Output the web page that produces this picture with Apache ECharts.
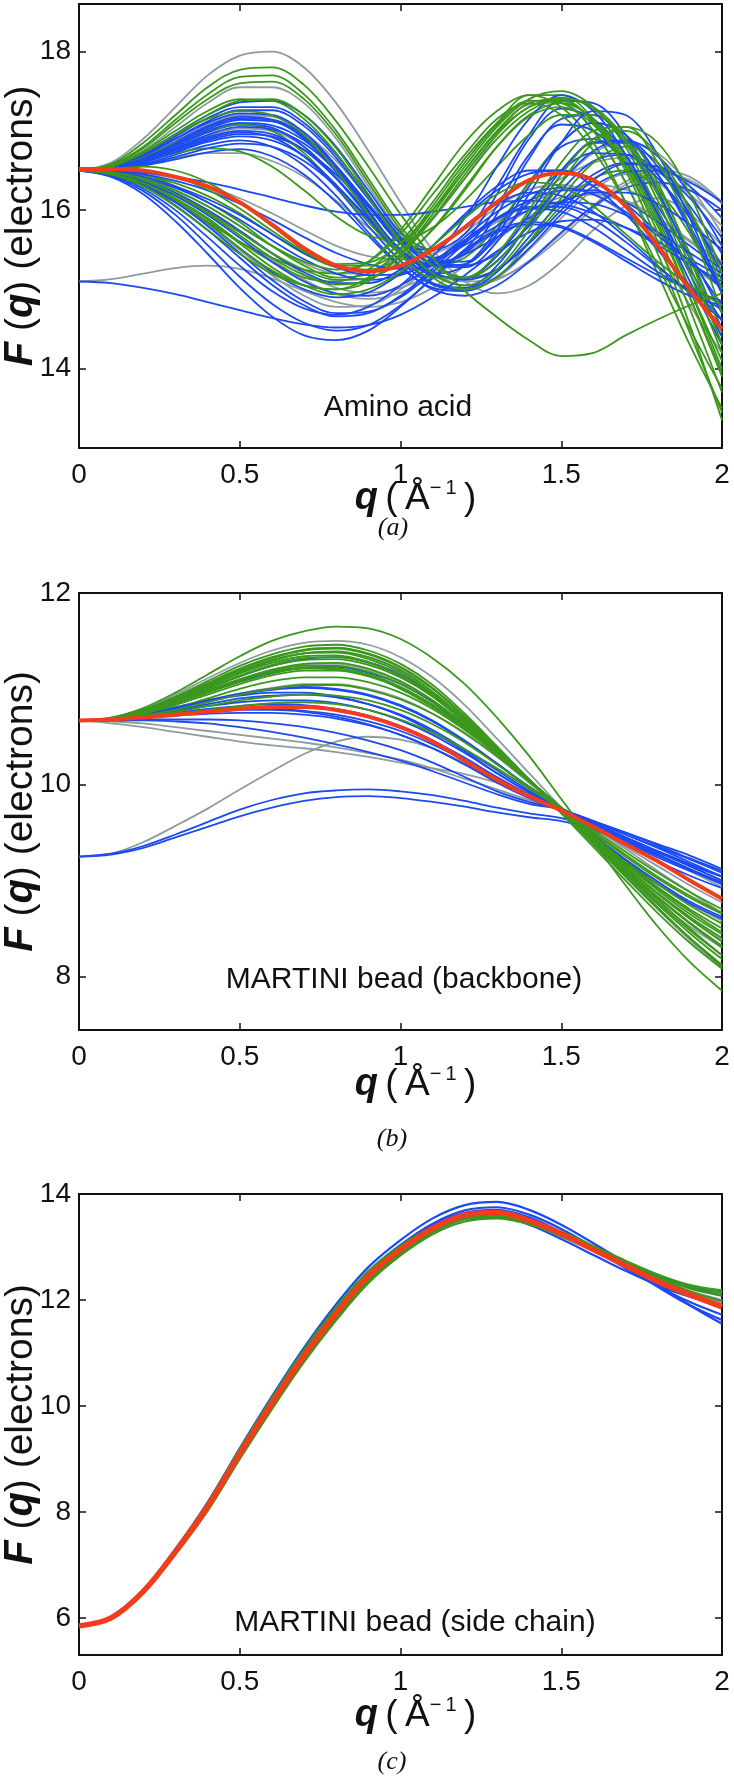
<!DOCTYPE html>
<html><head><meta charset="utf-8">
<script src="https://cdn.jsdelivr.net/npm/echarts@6/dist/echarts.min.js"></script>
<style>html,body{margin:0;padding:0;background:#fff}#chart{width:734px;height:1780px}</style>
</head><body><div id="chart"></div>
<script>
// ---------- data ----------
const qValues = [0,0.1,0.2,0.3,0.4,0.5,0.6,0.7,0.8,0.9,1.0,1.1,1.2,1.3,1.4,1.5,1.6,1.7,1.8,1.9,2.0];
const xTickValues = [0,0.5,1,1.5,2];
const aminoTicks = [14,16,18];
const backboneTicks = [8,10,12];
const sideTicks = [6,8,10,12,14];

// (a) Amino acid
const aminoRed = [16.52,16.52,16.5,16.42,16.3,16.1,15.82,15.52,15.3,15.23,15.3,15.5,15.78,16.1,16.38,16.47,16.38,16.05,15.55,15.0,14.5];
const aminoBlue = [
 [16.5,16.55,16.72,16.96,17.2,17.36,17.38,17.2,16.8,16.25,15.72,15.5,15.7,16.3,16.95,17.38,17.35,16.95,16.25,15.4,14.5],
 [16.5,16.54,16.69,16.9,17.12,17.26,17.26,17.06,16.66,16.14,15.64,15.4,15.6,16.2,16.9,17.28,17.15,16.7,16.0,15.2,14.4],
 [16.5,16.53,16.66,16.86,17.06,17.18,17.14,16.9,16.48,15.98,15.5,15.3,15.5,16.05,16.7,17.08,17.0,16.6,15.95,15.25,14.6],
 [16.5,16.53,16.63,16.8,16.98,17.08,17.04,16.8,16.4,15.92,15.46,15.2,15.3,15.75,16.35,16.8,16.9,16.6,16.05,15.4,14.8],
 [16.5,16.52,16.61,16.76,16.9,16.98,16.92,16.68,16.28,15.8,15.36,15.06,15.0,15.22,15.66,16.1,16.45,16.6,16.5,16.15,15.65],
 [16.5,16.52,16.58,16.7,16.82,16.88,16.8,16.56,16.18,15.72,15.3,15.02,14.98,15.16,15.52,15.95,16.3,16.48,16.5,16.35,16.1],
 [16.5,16.51,16.56,16.64,16.73,16.77,16.68,16.45,16.1,15.68,15.28,15.0,14.92,15.05,15.35,15.72,16.05,16.28,16.35,16.25,16.0],
 [16.5,16.53,16.64,16.83,17.02,17.14,17.12,16.92,16.55,16.08,15.62,15.35,15.45,15.95,16.65,17.15,17.2,16.85,16.2,15.45,14.7],
 [16.5,16.52,16.6,16.74,16.88,16.96,16.93,16.76,16.45,16.05,15.65,15.38,15.3,15.45,15.8,16.25,16.62,16.7,16.5,16.05,15.45],
 [16.5,16.54,16.68,16.9,17.1,17.22,17.2,16.98,16.56,16.0,15.45,15.08,15.02,15.3,15.85,16.45,16.85,16.85,16.45,15.8,15.0],
 [16.5,16.42,16.2,15.86,15.45,15.02,14.66,14.42,14.36,14.48,14.78,15.15,15.5,15.75,15.85,15.8,15.62,15.4,15.18,15.0,14.85],
 [16.5,16.44,16.27,16.0,15.66,15.3,14.98,14.76,14.68,14.78,15.05,15.42,15.8,16.08,16.22,16.18,15.98,15.66,15.3,14.95,14.62],
 [16.5,16.46,16.33,16.12,15.84,15.52,15.22,15.0,14.9,14.96,15.2,15.55,15.95,16.3,16.5,16.5,16.3,15.95,15.5,15.05,14.62],
 [16.5,16.47,16.38,16.22,16.0,15.74,15.46,15.22,15.08,15.08,15.25,15.55,15.92,16.25,16.46,16.5,16.36,16.08,15.72,15.35,15.02],
 [16.5,16.48,16.4,16.28,16.1,15.88,15.62,15.38,15.2,15.12,15.18,15.36,15.62,15.9,16.12,16.25,16.25,16.1,15.85,15.55,15.25],
 [15.1,15.08,15.02,14.94,14.84,14.74,14.64,14.56,14.52,14.55,14.68,14.9,15.18,15.48,15.72,15.86,15.88,15.78,15.6,15.38,15.15],
 [16.5,16.45,16.3,16.06,15.75,15.4,15.06,14.8,14.66,14.7,14.92,15.26,15.62,15.9,16.02,15.98,15.78,15.5,15.22,15.0,14.85],
 [16.5,16.5,16.47,16.42,16.35,16.26,16.16,16.06,15.98,15.94,15.94,15.98,16.04,16.1,16.12,16.08,15.96,15.78,15.56,15.32,15.1],
 [16.5,16.53,16.65,16.84,17.04,17.16,17.14,16.94,16.56,16.06,15.58,15.5,15.9,16.55,17.15,17.45,17.25,16.7,15.95,15.1,14.3],
 [16.5,16.52,16.62,16.78,16.95,17.05,17.02,16.84,16.5,16.05,15.62,15.35,15.35,15.65,16.1,16.5,16.72,16.7,16.4,15.9,15.3],
 [16.5,16.53,16.64,16.82,17.0,17.1,17.07,16.88,16.52,16.04,15.58,15.3,15.32,15.7,16.3,16.85,17.1,16.95,16.45,15.75,14.95],
 [16.5,16.52,16.6,16.73,16.86,16.93,16.88,16.68,16.32,15.88,15.45,15.18,15.15,15.42,15.95,16.5,16.85,16.88,16.55,15.95,15.2],
 [16.5,16.54,16.7,16.93,17.16,17.3,17.3,17.1,16.7,16.18,15.66,15.32,15.28,15.6,16.2,16.85,17.25,17.2,16.7,15.9,14.95],
 [16.5,16.51,16.57,16.67,16.78,16.84,16.8,16.62,16.3,15.9,15.5,15.22,15.12,15.25,15.58,16.0,16.38,16.58,16.55,16.3,15.9],
 [16.5,16.53,16.62,16.77,16.92,17.0,16.96,16.76,16.4,15.95,15.5,15.2,15.14,15.36,15.82,16.35,16.75,16.88,16.68,16.2,15.55],
 [16.5,16.45,16.32,16.1,15.8,15.46,15.12,14.85,14.7,14.72,14.9,15.22,15.58,15.88,16.04,16.04,15.88,15.6,15.28,14.98,14.75],
 [16.5,16.47,16.36,16.18,15.94,15.65,15.35,15.1,14.95,14.92,15.05,15.32,15.66,15.98,16.2,16.28,16.2,15.98,15.68,15.35,15.05],
 [16.5,16.48,16.42,16.3,16.14,15.94,15.7,15.46,15.28,15.18,15.2,15.34,15.56,15.8,16.0,16.1,16.08,15.94,15.72,15.46,15.2],
 [16.5,16.43,16.24,15.94,15.56,15.16,14.82,14.58,14.48,14.55,14.8,15.14,15.48,15.72,15.82,15.78,15.6,15.36,15.12,14.92,14.8],
 [16.5,16.49,16.45,16.37,16.25,16.08,15.88,15.66,15.46,15.32,15.26,15.3,15.44,15.66,15.9,16.1,16.22,16.22,16.08,15.82,15.5]
];
const aminoGreen = [
 [16.5,16.58,16.85,17.2,17.55,17.77,17.8,17.58,17.12,16.55,15.95,15.4,14.98,14.65,14.36,14.16,14.2,14.42,14.62,14.8,14.95],
 [16.5,16.57,16.8,17.14,17.46,17.68,17.7,17.46,17.0,16.4,15.8,15.35,15.15,15.25,15.6,16.05,16.4,16.5,16.25,15.7,14.95],
 [16.5,16.45,16.3,16.05,15.75,15.45,15.2,15.05,15.0,15.1,15.45,15.95,16.5,17.0,17.35,17.4,17.1,16.5,15.6,14.55,13.35],
 [16.5,16.47,16.35,16.15,15.9,15.6,15.35,15.15,15.1,15.25,15.6,16.1,16.65,17.1,17.45,17.45,17.15,16.6,15.85,14.9,13.9],
 [16.5,16.48,16.4,16.25,16.05,15.8,15.55,15.35,15.25,15.35,15.7,16.2,16.7,17.15,17.35,17.2,16.75,16.1,15.3,14.5,13.75],
 [16.5,16.5,16.45,16.3,16.1,15.85,15.55,15.3,15.15,15.2,15.5,16.0,16.55,17.05,17.4,17.5,17.3,16.8,16.0,15.0,14.0],
 [16.5,16.52,16.55,16.5,16.35,16.1,15.8,15.5,15.3,15.3,15.5,15.9,16.4,16.9,17.25,17.4,17.3,16.9,16.2,15.3,14.3],
 [16.5,16.45,16.3,16.1,15.85,15.6,15.4,15.25,15.2,15.35,15.75,16.3,16.85,17.25,17.45,17.3,16.85,16.1,15.2,14.3,13.5],
 [16.5,16.55,16.72,16.95,17.15,17.25,17.2,16.95,16.5,15.95,15.45,15.15,15.15,15.45,16.0,16.6,17.0,17.05,16.6,15.8,14.7],
 [16.5,16.53,16.66,16.85,17.0,17.08,17.0,16.72,16.3,15.85,15.45,15.3,15.4,15.8,16.35,16.85,17.1,16.95,16.35,15.4,14.3],
 [16.5,16.46,16.34,16.14,15.88,15.58,15.28,15.05,14.94,15.0,15.22,15.55,15.9,16.2,16.35,16.3,16.05,15.7,15.35,15.05,14.8],
 [16.5,16.49,16.44,16.34,16.18,15.96,15.7,15.45,15.28,15.25,15.4,15.75,16.25,16.8,17.2,17.35,17.15,16.65,15.9,15.0,14.1],
 [16.5,16.56,16.78,17.1,17.4,17.6,17.62,17.4,16.95,16.35,15.75,15.3,15.15,15.35,15.85,16.45,16.9,17.0,16.7,16.0,15.0],
 [16.5,16.54,16.7,16.95,17.2,17.38,17.4,17.2,16.78,16.2,15.6,15.15,15.0,15.15,15.6,16.15,16.6,16.8,16.6,16.0,15.1],
 [16.5,16.48,16.38,16.2,15.96,15.68,15.4,15.18,15.06,15.12,15.42,15.9,16.45,16.95,17.3,17.38,17.12,16.55,15.72,14.75,13.7],
 [16.5,16.46,16.34,16.12,15.84,15.52,15.24,15.05,15.0,15.15,15.52,16.05,16.6,17.08,17.38,17.35,17.0,16.35,15.45,14.45,13.45],
 [16.5,16.51,16.5,16.42,16.26,16.02,15.74,15.48,15.32,15.34,15.58,16.0,16.5,16.98,17.3,17.42,17.28,16.85,16.12,15.2,14.2],
 [16.5,16.53,16.62,16.72,16.78,16.74,16.55,16.25,15.92,15.68,15.62,15.78,16.12,16.55,16.95,17.2,17.2,16.9,16.3,15.45,14.45],
 [16.5,16.55,16.74,17.0,17.25,17.4,17.38,17.15,16.72,16.16,15.6,15.2,15.05,15.25,15.75,16.35,16.85,17.05,16.85,16.2,15.2],
 [16.5,16.47,16.37,16.2,15.98,15.72,15.46,15.25,15.12,15.14,15.36,15.76,16.28,16.8,17.18,17.3,17.08,16.55,15.8,14.9,13.95]
];
const aminoGray = [
 [16.5,16.6,16.9,17.3,17.7,17.95,18.0,17.8,17.35,16.75,16.1,15.5,15.1,14.95,15.05,15.35,15.75,16.05,16.15,15.95,15.55],
 [16.5,16.56,16.75,17.05,17.35,17.55,17.55,17.35,16.9,16.3,15.7,15.25,15.05,15.15,15.5,15.9,16.25,16.45,16.35,15.95,15.3],
 [15.1,15.13,15.2,15.27,15.3,15.26,15.14,14.98,14.84,14.78,14.84,15.02,15.3,15.62,15.92,16.12,16.2,16.12,15.9,15.6,15.3],
 [16.5,16.47,16.38,16.22,16.0,15.74,15.45,15.2,15.02,14.96,15.02,15.2,15.48,15.8,16.12,16.4,16.6,16.66,16.52,16.2,15.8],
 [16.5,16.53,16.62,16.78,16.94,17.03,17.0,16.8,16.42,15.95,15.5,15.18,15.05,15.12,15.36,15.7,16.06,16.36,16.5,16.42,16.1],
 [16.5,16.48,16.4,16.25,16.05,15.8,15.55,15.33,15.2,15.22,15.45,15.88,16.4,16.95,17.33,17.35,17.0,16.35,15.55,14.8,14.2],
 [16.5,16.5,16.47,16.4,16.3,16.15,15.96,15.75,15.55,15.42,15.38,15.45,15.62,15.85,16.08,16.25,16.32,16.26,16.08,15.82,15.5],
 [16.5,16.45,16.32,16.1,15.82,15.5,15.18,14.92,14.78,14.8,15.0,15.32,15.7,16.04,16.26,16.32,16.2,15.95,15.62,15.3,15.02],
 [16.5,16.52,16.58,16.66,16.72,16.72,16.62,16.42,16.12,15.78,15.46,15.22,15.1,15.14,15.34,15.66,16.02,16.32,16.46,16.38,16.08],
 [16.5,16.47,16.37,16.2,15.96,15.68,15.38,15.12,14.94,14.88,14.96,15.16,15.44,15.74,16.0,16.16,16.2,16.1,15.9,15.62,15.35],
 [16.5,16.54,16.68,16.88,17.08,17.2,17.18,16.98,16.62,16.15,15.7,15.38,15.3,15.48,15.88,16.35,16.72,16.86,16.72,16.3,15.7]
];

// (b) MARTINI bead (backbone)
const backboneRed = [10.67,10.68,10.7,10.73,10.76,10.79,10.81,10.81,10.78,10.71,10.6,10.45,10.25,10.05,9.88,9.73,9.56,9.38,9.2,9.0,8.81];
const backboneBlue = [
 [10.67,10.69,10.76,10.87,11.0,11.13,11.24,11.31,11.33,11.28,11.15,10.95,10.68,10.37,10.05,9.75,9.46,9.2,8.96,8.76,8.6],
 [10.67,10.69,10.74,10.81,10.88,10.93,10.96,10.96,10.92,10.84,10.72,10.55,10.35,10.12,9.92,9.74,9.58,9.43,9.29,9.16,9.04],
 [10.67,10.68,10.72,10.77,10.82,10.86,10.88,10.88,10.85,10.78,10.67,10.52,10.33,10.12,9.92,9.75,9.6,9.45,9.31,9.17,9.04],
 [10.67,10.68,10.7,10.72,10.74,10.75,10.75,10.73,10.69,10.62,10.52,10.38,10.21,10.02,9.86,9.74,9.62,9.5,9.37,9.23,9.1],
 [10.67,10.67,10.67,10.66,10.64,10.6,10.55,10.49,10.42,10.34,10.25,10.14,10.02,9.9,9.8,9.74,9.62,9.48,9.34,9.19,9.04],
 [10.67,10.67,10.68,10.68,10.68,10.67,10.64,10.6,10.54,10.46,10.36,10.23,10.08,9.93,9.82,9.74,9.6,9.45,9.3,9.15,9.0],
 [10.67,10.68,10.71,10.75,10.79,10.82,10.84,10.83,10.79,10.72,10.61,10.46,10.28,10.08,9.9,9.75,9.6,9.45,9.3,9.15,9.0],
 [9.25,9.28,9.36,9.48,9.61,9.74,9.84,9.91,9.94,9.95,9.93,9.89,9.83,9.76,9.7,9.65,9.55,9.42,9.27,9.12,8.97],
 [9.25,9.27,9.34,9.45,9.56,9.67,9.76,9.83,9.87,9.88,9.86,9.82,9.77,9.71,9.66,9.62,9.53,9.4,9.26,9.11,8.96],
 [10.67,10.69,10.75,10.85,10.97,11.08,11.17,11.22,11.23,11.17,11.05,10.86,10.6,10.33,10.04,9.75,9.47,9.22,8.99,8.78,8.62],
 [10.67,10.68,10.72,10.78,10.84,10.9,10.93,10.94,10.91,10.84,10.73,10.57,10.37,10.15,9.94,9.75,9.58,9.42,9.27,9.12,8.98],
 [10.67,10.68,10.71,10.74,10.77,10.79,10.79,10.77,10.73,10.66,10.56,10.42,10.25,10.06,9.88,9.74,9.61,9.48,9.35,9.22,9.08],
 [10.67,10.68,10.73,10.8,10.88,10.95,11.0,11.02,11.0,10.94,10.83,10.67,10.46,10.22,9.97,9.75,9.55,9.37,9.2,9.05,8.92],
 [10.67,10.68,10.7,10.73,10.76,10.78,10.78,10.76,10.71,10.63,10.52,10.38,10.21,10.03,9.87,9.74,9.62,9.5,9.38,9.26,9.12],
 [10.67,10.68,10.72,10.79,10.87,10.94,10.99,11.01,10.99,10.93,10.82,10.66,10.45,10.22,9.98,9.76,9.57,9.4,9.24,9.1,8.98]
];
const backboneGreen = [
 [10.67,10.7,10.8,10.96,11.15,11.34,11.5,11.6,11.65,11.63,11.52,11.32,11.05,10.7,10.3,9.85,9.4,8.95,8.52,8.15,7.85],
 [10.67,10.69,10.77,10.9,11.05,11.2,11.32,11.4,11.42,11.36,11.22,11.0,10.7,10.38,10.05,9.72,9.38,9.05,8.72,8.4,8.1],
 [10.67,10.69,10.76,10.88,11.02,11.16,11.27,11.34,11.35,11.28,11.14,10.93,10.66,10.36,10.05,9.74,9.42,9.1,8.8,8.5,8.22],
 [10.67,10.69,10.75,10.85,10.98,11.1,11.2,11.26,11.27,11.21,11.08,10.88,10.63,10.35,10.05,9.75,9.44,9.14,8.86,8.6,8.36],
 [10.67,10.68,10.74,10.83,10.94,11.05,11.14,11.19,11.19,11.13,11.01,10.83,10.6,10.34,10.05,9.76,9.46,9.18,8.92,8.68,8.46],
 [10.67,10.68,10.73,10.8,10.9,11.0,11.08,11.12,11.12,11.07,10.96,10.79,10.57,10.32,10.04,9.76,9.48,9.21,8.96,8.74,8.55],
 [10.67,10.68,10.72,10.78,10.86,10.94,11.0,11.04,11.04,10.99,10.89,10.74,10.54,10.3,10.03,9.76,9.5,9.25,9.02,8.82,8.65],
 [10.67,10.69,10.76,10.87,11.0,11.13,11.24,11.3,11.31,11.25,11.12,10.92,10.65,10.36,10.05,9.74,9.42,9.11,8.82,8.55,8.3],
 [10.67,10.69,10.78,10.92,11.08,11.24,11.36,11.44,11.46,11.4,11.26,11.04,10.74,10.4,10.05,9.7,9.35,9.0,8.66,8.35,8.08],
 [10.67,10.68,10.75,10.86,10.98,11.1,11.18,11.22,11.2,11.14,11.0,10.81,10.58,10.32,10.04,9.76,9.47,9.19,8.93,8.7,8.5],
 [10.67,10.68,10.7,10.74,10.78,10.82,10.85,10.86,10.84,10.78,10.68,10.54,10.37,10.17,9.96,9.75,9.53,9.3,9.08,8.88,8.7],
 [10.67,10.69,10.77,10.89,11.03,11.17,11.29,11.37,11.39,11.33,11.19,10.97,10.68,10.37,10.05,9.73,9.4,9.07,8.75,8.45,8.18],
 [10.67,10.68,10.75,10.85,10.97,11.09,11.19,11.24,11.24,11.18,11.05,10.86,10.62,10.35,10.05,9.75,9.45,9.15,8.87,8.62,8.4],
 [10.67,10.69,10.76,10.88,11.01,11.14,11.25,11.32,11.33,11.27,11.13,10.92,10.65,10.36,10.05,9.74,9.43,9.12,8.83,8.56,8.32],
 [10.67,10.69,10.78,10.91,11.06,11.21,11.33,11.41,11.43,11.37,11.23,11.01,10.71,10.39,10.05,9.72,9.38,9.04,8.71,8.4,8.12],
 [10.67,10.68,10.74,10.84,10.96,11.07,11.16,11.21,11.21,11.15,11.02,10.83,10.59,10.33,10.04,9.76,9.46,9.17,8.9,8.65,8.44],
 [10.67,10.69,10.77,10.9,11.04,11.18,11.3,11.37,11.38,11.31,11.17,10.95,10.67,10.37,10.05,9.73,9.41,9.09,8.77,8.48,8.22],
 [10.67,10.68,10.71,10.76,10.82,10.88,10.92,10.94,10.93,10.88,10.78,10.63,10.44,10.21,9.98,9.75,9.51,9.27,9.04,8.84,8.66]
];
const backboneGray = [
 [10.67,10.7,10.79,10.94,11.11,11.27,11.4,11.48,11.5,11.46,11.33,11.12,10.83,10.48,10.12,9.76,9.4,9.04,8.7,8.38,8.1],
 [10.67,10.69,10.77,10.9,11.05,11.19,11.3,11.37,11.38,11.33,11.2,11.0,10.72,10.4,10.06,9.73,9.4,9.08,8.78,8.52,8.3],
 [10.67,10.64,10.6,10.55,10.5,10.45,10.41,10.38,10.34,10.29,10.23,10.17,10.11,10.02,9.9,9.74,9.55,9.35,9.15,8.95,8.77],
 [9.25,9.28,9.4,9.57,9.75,9.95,10.14,10.32,10.45,10.5,10.47,10.38,10.22,10.03,9.87,9.74,9.55,9.33,9.1,8.88,8.66],
 [10.67,10.69,10.75,10.85,10.97,11.09,11.19,11.25,11.26,11.2,11.07,10.87,10.61,10.33,10.04,9.74,9.44,9.14,8.86,8.6,8.38],
 [10.67,10.68,10.72,10.79,10.87,10.95,11.01,11.05,11.05,11.0,10.9,10.74,10.53,10.29,10.02,9.75,9.48,9.22,8.98,8.76,8.58],
 [10.67,10.66,10.64,10.6,10.56,10.52,10.48,10.44,10.39,10.33,10.26,10.17,10.06,9.95,9.84,9.74,9.6,9.44,9.27,9.1,8.93]
];

// (c) MARTINI bead (side chain)
const sideRed = [5.85,6.0,6.5,7.25,8.1,9.1,10.05,10.95,11.75,12.45,12.95,13.35,13.6,13.65,13.5,13.25,12.95,12.65,12.35,12.1,11.87];
const sideBlue = [
 [5.85,6.0,6.52,7.3,8.18,9.2,10.18,11.1,11.92,12.62,13.13,13.54,13.79,13.85,13.7,13.42,13.07,12.7,12.3,11.9,11.55],
 [5.85,6.0,6.5,7.27,8.14,9.15,10.12,11.03,11.84,12.54,13.04,13.44,13.69,13.75,13.61,13.34,13.0,12.63,12.25,11.9,11.62],
 [5.85,6.0,6.49,7.22,8.05,9.03,9.97,10.87,11.66,12.36,12.88,13.28,13.53,13.58,13.42,13.15,12.85,12.55,12.28,12.06,11.9],
 [5.85,6.0,6.5,7.25,8.1,9.1,10.06,10.96,11.76,12.46,12.97,13.38,13.64,13.7,13.56,13.28,12.95,12.6,12.26,11.96,11.72],
 [5.85,6.0,6.5,7.26,8.12,9.13,10.09,11.0,11.8,12.5,13.0,13.4,13.64,13.67,13.51,13.25,12.97,12.7,12.45,12.24,12.08]
];
const sideGreen = [
 [5.85,5.99,6.47,7.2,8.02,9.0,9.94,10.83,11.62,12.32,12.84,13.24,13.48,13.54,13.43,13.2,12.93,12.66,12.42,12.22,12.08],
 [5.85,6.0,6.51,7.29,8.17,9.18,10.15,11.06,11.86,12.54,13.02,13.39,13.6,13.63,13.5,13.27,12.99,12.71,12.46,12.26,12.13],
 [5.85,6.0,6.5,7.25,8.1,9.1,10.05,10.95,11.75,12.44,12.94,13.33,13.58,13.63,13.51,13.29,13.02,12.74,12.48,12.28,12.18],
 [5.85,5.99,6.48,7.21,8.04,9.02,9.96,10.86,11.66,12.37,12.89,13.29,13.54,13.6,13.48,13.25,12.98,12.68,12.4,12.16,11.98],
 [5.85,6.0,6.51,7.28,8.15,9.16,10.13,11.04,11.84,12.53,13.01,13.38,13.6,13.63,13.49,13.23,12.93,12.62,12.33,12.08,11.88],
 [5.85,6.0,6.49,7.23,8.07,9.06,10.0,10.9,11.69,12.39,12.9,13.29,13.53,13.57,13.45,13.22,12.96,12.7,12.46,12.26,12.14]
];
const sideGray = [
 [5.85,6.0,6.5,7.25,8.1,9.1,10.05,10.95,11.74,12.43,12.92,13.31,13.55,13.6,13.46,13.22,12.95,12.67,12.4,12.17,12.0],
 [5.85,6.0,6.5,7.25,8.1,9.1,10.05,10.95,11.75,12.45,12.94,13.33,13.57,13.61,13.47,13.22,12.94,12.64,12.36,12.12,11.95]
];

// ---------- chart ----------
const FONT = '"Liberation Sans", Arial, Helvetica, sans-serif';
const SERIF = '"Liberation Serif", "Times New Roman", serif';
const COL = {blue:'#1b4af2', green:'#3b981c', gray:'#8e9c9f', red:'#f23c1c', axis:'#111'};

const panels = [
  {top:4, height:444, min:13, max:18.6, ticks:aminoTicks, red:aminoRed, blue:aminoBlue, green:aminoGreen, gray:aminoGray, lineW:1.8, redW:4, xGap:30},
  {top:593, height:437, min:7.44, max:12, ticks:backboneTicks, red:backboneRed, blue:backboneBlue, green:backboneGreen, gray:backboneGray, lineW:1.8, redW:4, xGap:34},
  {top:1194, height:461, min:5.3, max:14, ticks:sideTicks, red:sideRed, blue:sideBlue, green:sideGreen, gray:sideGray, lineW:2.2, redW:5.5, xGap:40}
];

const grids = [], xAxes = [], yAxes = [], series = [];
const axisLine = {show:true, onZero:false, lineStyle:{color:COL.axis, width:2}};
const tick = {show:true, inside:true, length:7, lineStyle:{color:COL.axis, width:1.5}};

panels.forEach((p) => grids.push({left:79, width:643, top:p.top, height:p.height, containLabel:false, outerBoundsMode:'none'}));
panels.forEach((p, k) => {
  xAxes.push({type:'value', gridIndex:k, position:'bottom', min:0, max:2, interval:0.5,
    axisLine, axisTick:tick, splitLine:{show:false},
    axisLabel:{show:true, margin:13, fontSize:28, color:COL.axis, fontFamily:FONT},
    name:'{b|q}\u2009{r|(\u2009Å}{s|\u2212\u20091}{r|\u2009)}', nameLocation:'middle', nameGap:p.xGap, nameMoveOverlap:false,
    nameTextStyle:{fontFamily:FONT, fontSize:37, color:COL.axis, lineHeight:42, padding:[0,0,0,30],
      rich:{b:{fontFamily:FONT, fontSize:38, fontWeight:'bold', fontStyle:'italic', color:COL.axis, lineHeight:42},
            r:{fontFamily:FONT, fontSize:37, color:COL.axis, lineHeight:42},
            s:{fontFamily:FONT, fontSize:20, color:COL.axis, verticalAlign:'top', lineHeight:22}}}
  });
});
panels.forEach((p, k) => {
  xAxes.push({type:'value', gridIndex:k, position:'top', min:0, max:2, interval:0.5,
    axisLine, axisTick:tick, axisLabel:{show:false}, splitLine:{show:false}});
});
panels.forEach((p, k) => {
  yAxes.push({type:'value', gridIndex:k, position:'left', min:p.min, max:p.max,
    axisLine, splitLine:{show:false},
    axisTick:Object.assign({}, tick, {customValues:p.ticks}),
    axisLabel:{show:true, customValues:p.ticks, margin:8, fontSize:28, color:COL.axis, fontFamily:FONT},
    name:'{b|F} ({b|q}) (electrons)', nameLocation:'middle', nameGap:38, nameRotate:90, nameMoveOverlap:false,
    nameTextStyle:{fontFamily:FONT, fontSize:39, color:COL.axis,
      rich:{b:{fontFamily:FONT, fontSize:40, fontWeight:'bold', fontStyle:'italic', color:COL.axis}}}
  });
});
panels.forEach((p, k) => {
  yAxes.push({type:'value', gridIndex:k, position:'right', min:p.min, max:p.max,
    axisLine, splitLine:{show:false},
    axisTick:Object.assign({}, tick, {customValues:p.ticks}),
    axisLabel:{show:false}});
});

function toPairs(arr){ return qValues.map((q,i)=>[q, arr[i]]); }
function line(arr, color, width, k, z){
  return {type:'line', xAxisIndex:k, yAxisIndex:k, data:toPairs(arr), showSymbol:false,
    smooth:0.35, clip:true, silent:true, animation:false, z:z,
    lineStyle:{color:color, width:width}, itemStyle:{color:color}, emphasis:{disabled:true}};
}
panels.forEach((p, k) => {
  p.gray.forEach(a => series.push(line(a, COL.gray, p.lineW, k, 2)));
  const n = Math.max(p.blue.length, p.green.length);
  for (let i = 0; i < n; i++) {
    if (p.blue[i]) series.push(line(p.blue[i], COL.blue, p.lineW, k, 2));
    if (i % 2 === 1 && p.green[i]) series.push(line(p.green[i], COL.green, p.lineW, k, 2));
  }
  p.green.forEach((a, i) => { if (i % 2 === 0) series.push(line(a, COL.green, p.lineW, k, 2)); });
  series.push(line(p.red, COL.red, p.redW, k, 3));
});

const txt = (s, x, y, font) => ({type:'text', x:x, y:y, silent:true, z:10,
  style:{text:s, font:font, fill:COL.axis, align:'center', verticalAlign:'middle'}});
const graphic = [
  txt('Amino acid', 398, 408, '30px ' + FONT),
  txt('MARTINI bead (backbone)', 404, 980, '30px ' + FONT),
  txt('MARTINI bead (side chain)', 415, 1623, '30px ' + FONT),
  txt('(a)', 393, 528, 'italic 26px ' + SERIF),
  txt('(b)', 392, 1139, 'italic 26px ' + SERIF),
  txt('(c)', 392, 1762, 'italic 26px ' + SERIF)
];

const chart = echarts.init(document.getElementById('chart'), null, {renderer:'canvas'});
chart.setOption({animation:false, backgroundColor:'#fff', grid:grids, xAxis:xAxes, yAxis:yAxes, series:series, graphic:graphic});
</script></body></html>
